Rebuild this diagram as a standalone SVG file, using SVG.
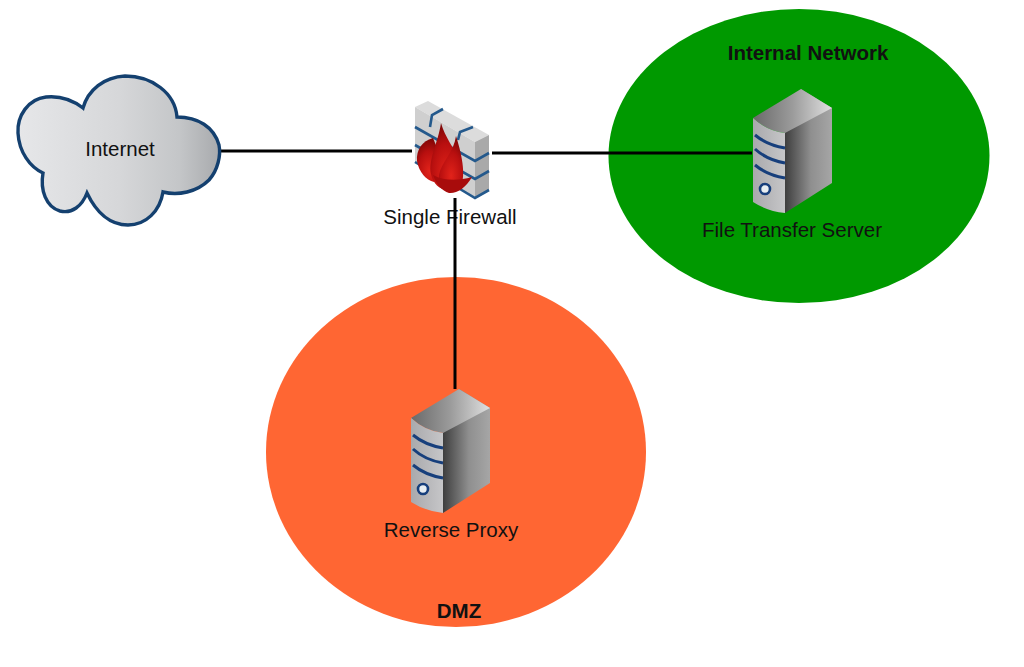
<svg xmlns="http://www.w3.org/2000/svg" width="1024" height="667" viewBox="0 0 1024 667">
  <style>
    text { font-family: "Liberation Sans", Arial, sans-serif; font-size: 20.5px; fill: #111; text-anchor: middle; }
    .zone { font-weight: bold; }
    .link { stroke: #000; stroke-width: 3; fill: none; }
    .band { stroke: #173f7c; stroke-width: 3; fill: none; }
    .mortar { stroke: #24598c; stroke-width: 2.6; fill: none; }
  </style>
  <defs>
    <linearGradient id="cloudFill" x1="0" y1="0" x2="1" y2="0">
      <stop offset="0" stop-color="#e6e7e9"/>
      <stop offset="0.5" stop-color="#d6d7d9"/>
      <stop offset="0.8" stop-color="#c4c6c8"/>
      <stop offset="1" stop-color="#a8aaad"/>
    </linearGradient>
    <linearGradient id="srvSide" x1="0" y1="0" x2="1" y2="0">
      <stop offset="0" stop-color="#3e3e3e"/>
      <stop offset="0.55" stop-color="#8f8f8f"/>
      <stop offset="1" stop-color="#a6a6a6"/>
    </linearGradient>
    <linearGradient id="srvTop" x1="0" y1="0" x2="1" y2="0">
      <stop offset="0" stop-color="#6a6a6a"/>
      <stop offset="0.5" stop-color="#9b9b9b"/>
      <stop offset="1" stop-color="#e0e0e0"/>
    </linearGradient>
    <linearGradient id="srvFront" x1="0" y1="0" x2="1" y2="0">
      <stop offset="0" stop-color="#a9a9ac"/>
      <stop offset="1" stop-color="#c6c6c8"/>
    </linearGradient>
    <radialGradient id="flame" cx="0.5" cy="0.75" r="0.75">
      <stop offset="0" stop-color="#e2231a"/>
      <stop offset="0.6" stop-color="#b80f0f"/>
      <stop offset="1" stop-color="#7a0606"/>
    </radialGradient>
    <g id="server">
      <path d="M48 0 L79 19 V94 L32 124 V44 Z" fill="url(#srvSide)"/>
      <path d="M0 29 L48 0 L79 19 L32 44 Q14 42 0 29 Z" fill="url(#srvTop)"/>
      <path d="M0 29 Q14 42 32 44 V124 Q14 122 0 113 Z" fill="url(#srvFront)"/>
      <path class="band" d="M2 46 Q14 56 32 59"/>
      <path class="band" d="M2 60 Q14 71 32 74"/>
      <path class="band" d="M2 76 Q14 86 32 89"/>
      <circle cx="12" cy="100" r="5" fill="#e8eef2" stroke="#173f7c" stroke-width="2.6"/>
    </g>
  </defs>

  <rect width="1024" height="667" fill="#fff"/>

  <!-- network zones -->
  <g id="zone-internal">
    <ellipse cx="799" cy="156" rx="190.500" ry="147" fill="#009900"/>
    <text class="zone" x="808" y="60">Internal Network</text>
  </g>
  <g id="zone-dmz">
    <ellipse cx="456" cy="452" rx="190" ry="175" fill="#ff6633"/>
    <text class="zone" x="459" y="618">DMZ</text>
  </g>

  <!-- connectors -->
  <g id="connectors">
    <path class="link" d="M219 151 H412"/>
    <path class="link" d="M492 153 H752"/>
  </g>

  <g id="internet">
    <path d="M83 108 C70 98 56 96 46 97 C28 99 17 116 18 133 C19 152 30 167 43 173 C40 190 46 207 60 211 C72 214 82 206 87 193 C96 212 110 225 128 225 C146 225 160 211 163 192 C178 196 197 192 209 180 C218 170 221 155 219 145 C214 127 198 117 177 117 C175 93 152 76 125 76 C104 77 88 90 83 108 Z" fill="url(#cloudFill)" stroke="#14406f" stroke-width="3.4"/>
    <text x="120" y="156">Internet</text>
  </g>

  <g id="firewall">
    <!-- brick wall -->
    <path d="M428 101 L489 135 L475 142 L415 107 Z" fill="#dcdcdc"/>
    <path d="M415 107 L475 142 V198 L415 162 Z" fill="#cfcfcf"/>
    <path d="M475 142 L489 135 V190 L475 198 Z" fill="#a9a9a9"/>
    <path class="mortar" d="M415 127 L475 161 L489 153"/>
    <path class="mortar" d="M415 145 L475 179 L489 171"/>
    <path class="mortar" d="M415 162 L475 198 L489 190"/>
    <path class="mortar" d="M430 127 L432 115 L443 109"/>
    <path class="mortar" d="M458 140 L460 132 L473 127"/>
    <!-- flames -->
    <path d="M433 138 C422 141 416 150 417 161 C419 172 426 180 434 182 L442 160 Z" fill="url(#flame)"/>
    <path d="M441 123 C438 143 428 160 431 174 C433 184 440 189 446 190 L462 162 C454 149 445 137 441 123 Z" fill="url(#flame)"/>
    <path d="M456 136 C454 152 441 163 439 175 C438 187 448 192 460 188 C466 178 463 158 456 136 Z" fill="url(#flame)"/>
    <path d="M433 175 C444 181 458 181 472 177 C466 188 456 194 449 193 C442 191 436 184 433 175 Z" fill="#a80c0c"/>
    <text x="450" y="224">Single Firewall</text>
    <path class="link" d="M455 198 V389"/>
  </g>

  <g id="file-transfer-server">
    <use href="#server" x="753" y="89"/>
    <text x="792" y="237">File Transfer Server</text>
  </g>

  <g id="reverse-proxy">
    <use href="#server" x="411" y="389"/>
    <text x="451" y="537">Reverse Proxy</text>
  </g>
</svg>
